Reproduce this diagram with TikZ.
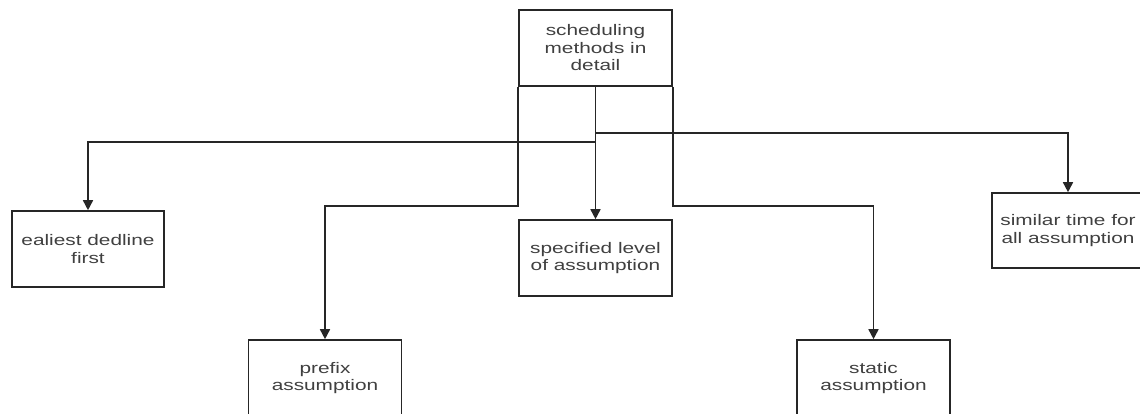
\documentclass[tikz,border=0pt]{standalone}
\usepackage{fontspec}
\usetikzlibrary{arrows.meta}
\newfontfamily\boxfont[FakeStretch=1.36]{Liberation Sans}
\definecolor{linec}{HTML}{262626}
\definecolor{textc}{HTML}{404040}
\tikzset{
  box/.style={draw=linec, line width=1.6pt, rectangle, inner sep=0pt,
    minimum width=153pt, minimum height=76pt, align=center,
    font=\boxfont\fontsize{15.3}{17.5}\selectfont, text=textc},
  conn/.style={draw=linec, line width=1.6pt, -{Triangle[width=10pt,length=10pt]}},
}
\begin{document}
\begin{tikzpicture}[x=1pt,y=-1pt]
\path[use as bounding box, clip] (0,0) rectangle (1140,414);
\fill[white] (0,0) rectangle (1140,414);
\node[box] (top) at (595.5,48) {scheduling\\methods in\\detail};
\node[box, minimum width=152pt] (ealiest) at (88,249) {ealiest dedline\\first};
\node[box] (specified) at (595.5,258) {specified level\\of assumption};
\node[box, minimum width=152pt, minimum height=75pt] (similar) at (1068,230.5) {similar time for\\all assumption};
\node[box] (prefix) at (325,378) {prefix\\assumption};
\node[box] (static) at (873.5,378) {static\\assumption};
\coordinate (hright) at (0,133);
\coordinate (hleft) at (0,142);
\coordinate (hlow) at (0,206);
\draw[conn] (top.south) -- (top.south |- hright) -| (similar.north);
\draw[conn] (top.south) -- (top.south |- hleft) -| (ealiest.north);
\draw[conn] (top.south) -- (specified.north);
\draw[conn] (top.south west) -- (top.south west |- hlow) -| (prefix.north);
\draw[conn] (top.south east) -- (top.south east |- hlow) -| (static.north);
\end{tikzpicture}
\end{document}
